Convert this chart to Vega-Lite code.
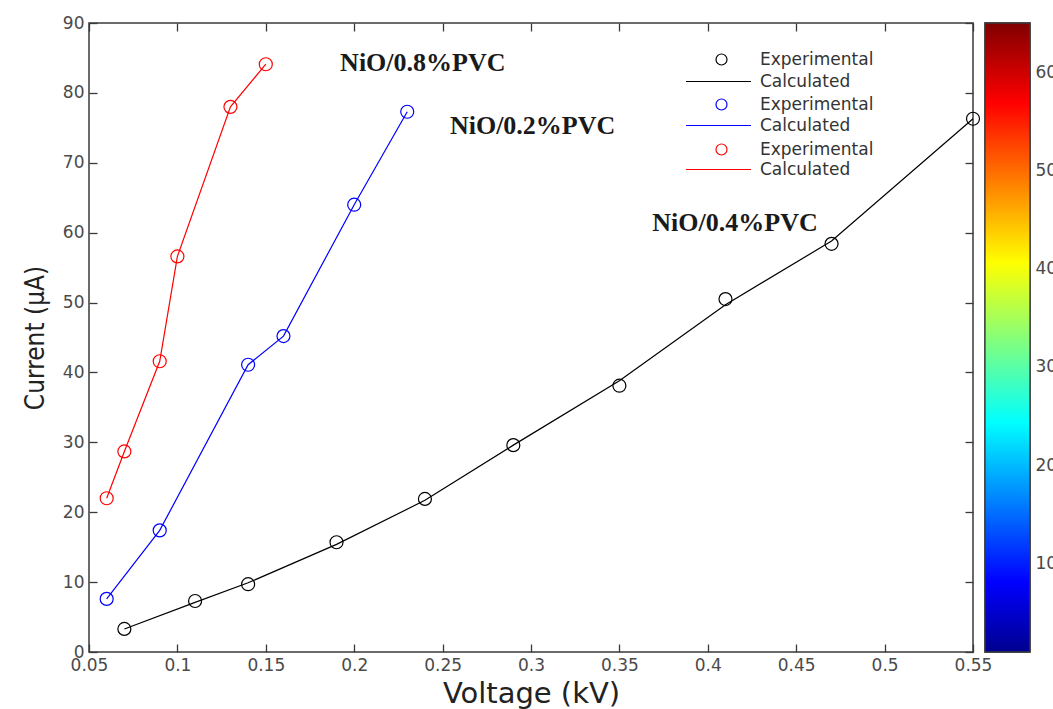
{
  "$schema": "https://vega.github.io/schema/vega-lite/v6.json",
  "background": "white",
  "padding": {"left": 21, "top": 13, "right": 0, "bottom": 0},
  "bounds": "flush",
  "spacing": 12,
  "datasets": {
    "exp": [
      {"s": "0.4", "v": 0.07, "i": 3.3, "entry": "e1"},
      {"s": "0.4", "v": 0.11, "i": 7.3, "entry": "e1"},
      {"s": "0.4", "v": 0.14, "i": 9.7, "entry": "e1"},
      {"s": "0.4", "v": 0.19, "i": 15.7, "entry": "e1"},
      {"s": "0.4", "v": 0.24, "i": 21.9, "entry": "e1"},
      {"s": "0.4", "v": 0.29, "i": 29.6, "entry": "e1"},
      {"s": "0.4", "v": 0.35, "i": 38.1, "entry": "e1"},
      {"s": "0.4", "v": 0.41, "i": 50.5, "entry": "e1"},
      {"s": "0.4", "v": 0.47, "i": 58.4, "entry": "e1"},
      {"s": "0.4", "v": 0.55, "i": 76.3, "entry": "e1"},
      {"s": "0.2", "v": 0.06, "i": 7.6, "entry": "e3"},
      {"s": "0.2", "v": 0.09, "i": 17.4, "entry": "e3"},
      {"s": "0.2", "v": 0.14, "i": 41.1, "entry": "e3"},
      {"s": "0.2", "v": 0.16, "i": 45.2, "entry": "e3"},
      {"s": "0.2", "v": 0.2, "i": 64.0, "entry": "e3"},
      {"s": "0.2", "v": 0.23, "i": 77.3, "entry": "e3"},
      {"s": "0.8", "v": 0.06, "i": 22.0, "entry": "e5"},
      {"s": "0.8", "v": 0.07, "i": 28.7, "entry": "e5"},
      {"s": "0.8", "v": 0.09, "i": 41.6, "entry": "e5"},
      {"s": "0.8", "v": 0.1, "i": 56.6, "entry": "e5"},
      {"s": "0.8", "v": 0.13, "i": 78.0, "entry": "e5"},
      {"s": "0.8", "v": 0.15, "i": 84.1, "entry": "e5"}
    ],
    "calc": [
      {"s": "0.4", "v": 0.07, "i": 3.3, "entry": "e2"},
      {"s": "0.4", "v": 0.11, "i": 7.1, "entry": "e2"},
      {"s": "0.4", "v": 0.14, "i": 9.9, "entry": "e2"},
      {"s": "0.4", "v": 0.19, "i": 15.4, "entry": "e2"},
      {"s": "0.4", "v": 0.24, "i": 21.7, "entry": "e2"},
      {"s": "0.4", "v": 0.29, "i": 29.6, "entry": "e2"},
      {"s": "0.4", "v": 0.35, "i": 38.8, "entry": "e2"},
      {"s": "0.4", "v": 0.41, "i": 49.7, "entry": "e2"},
      {"s": "0.4", "v": 0.47, "i": 58.8, "entry": "e2"},
      {"s": "0.4", "v": 0.55, "i": 76.3, "entry": "e2"},
      {"s": "0.2", "v": 0.06, "i": 7.6, "entry": "e4"},
      {"s": "0.2", "v": 0.09, "i": 17.4, "entry": "e4"},
      {"s": "0.2", "v": 0.14, "i": 41.1, "entry": "e4"},
      {"s": "0.2", "v": 0.16, "i": 45.2, "entry": "e4"},
      {"s": "0.2", "v": 0.2, "i": 64.0, "entry": "e4"},
      {"s": "0.2", "v": 0.23, "i": 77.3, "entry": "e4"},
      {"s": "0.8", "v": 0.06, "i": 22.0, "entry": "e6"},
      {"s": "0.8", "v": 0.07, "i": 28.7, "entry": "e6"},
      {"s": "0.8", "v": 0.09, "i": 41.6, "entry": "e6"},
      {"s": "0.8", "v": 0.1, "i": 56.6, "entry": "e6"},
      {"s": "0.8", "v": 0.13, "i": 78.0, "entry": "e6"},
      {"s": "0.8", "v": 0.15, "i": 84.1, "entry": "e6"}
    ],
    "labels": [
      {"label": "NiO/0.8%PVC", "v": 0.2388, "i": 84.3},
      {"label": "NiO/0.2%PVC", "v": 0.3009, "i": 75.2},
      {"label": "NiO/0.4%PVC", "v": 0.4154, "i": 61.4}
    ],
    "cbar": [{"x0": 0, "x1": 1, "lo": 1, "hi": 65}]
  },
  "hconcat": [
    {
      "width": 884,
      "height": 629,
      "layer": [
        {
          "data": {"name": "calc"},
          "mark": {"type": "line", "strokeWidth": 1.2},
          "encoding": {
            "x": {"field": "v", "type": "quantitative",
                  "scale": {"domain": [0.05, 0.55], "nice": false, "zero": false},
                  "axis": {"orient": "bottom", "values": [0.05, 0.1, 0.15, 0.2, 0.25, 0.3, 0.35, 0.4, 0.45, 0.5, 0.55], "format": "~g", "labelFlush": false, "labelOverlap": false, "title": "Voltage (kV)", "titleFontSize": 29, "titlePadding": 6}},
            "y": {"field": "i", "type": "quantitative",
                  "scale": {"domain": [0, 90], "nice": false, "zero": false},
                  "axis": {"orient": "left", "values": [0, 10, 20, 30, 40, 50, 60, 70, 80, 90], "labelFlush": false, "labelOverlap": false, "title": "Current (µA)", "titleFont": "DejaVu Sans Condensed", "titleFontSize": 26, "titlePadding": 14}},
            "color": {"field": "entry", "type": "nominal",
                      "scale": {"domain": ["e2", "e4", "e6"], "range": ["#000000", "#0000ff", "#ff0000"]},
                      "legend": {
                        "orient": "none", "legendX": 596, "legendY": 25, "title": null, "padding": 0,
                        "labelExpr": "'Calculated'",
                        "symbolType": "stroke", "symbolSize": 4225, "symbolStrokeWidth": 1.2, "labelOffset": 8, "rowPadding": 2,
                        "labelFont": "DejaVu Sans", "labelFontSize": 17, "labelColor": "#333333"
                      }}
          }
        },
        {
          "data": {"name": "exp"},
          "mark": {"type": "point", "filled": false, "size": 169, "strokeWidth": 1.2, "opacity": 1},
          "encoding": {
            "x": {"field": "v", "type": "quantitative", "axis": null},
            "y": {"field": "i", "type": "quantitative", "axis": null},
            "stroke": {"field": "entry", "type": "nominal",
                       "scale": {"domain": ["e1", "e3", "e5"], "range": ["#000000", "#0000ff", "#ff0000"]},
                       "legend": {
                         "orient": "none", "legendX": 624, "legendY": 28, "title": null, "padding": 0,
                         "labelExpr": "'Experimental'",
                         "symbolType": "circle", "symbolSize": 121, "symbolStrokeWidth": 1.2, "labelOffset": 30, "rowPadding": 27,
                         "labelFont": "DejaVu Sans", "labelFontSize": 17, "labelColor": "#333333"
                       }}
          }
        },
        {
          "data": {"name": "labels"},
          "mark": {"type": "text", "font": "Liberation Serif", "fontWeight": "bold", "fontSize": 26, "align": "center", "baseline": "middle", "color": "#1a1a1a"},
          "encoding": {
            "x": {"field": "v", "type": "quantitative", "axis": null},
            "y": {"field": "i", "type": "quantitative", "axis": null},
            "text": {"field": "label"}
          }
        },
        {
          "data": {"name": "calc"},
          "mark": {"type": "point", "opacity": 0},
          "encoding": {
            "x": {"field": "v", "type": "quantitative",
                  "axis": {"orient": "top", "values": [0.05, 0.1, 0.15, 0.2, 0.25, 0.3, 0.35, 0.4, 0.45, 0.5, 0.55], "labels": false, "title": null}},
            "y": {"field": "i", "type": "quantitative",
                  "axis": {"orient": "right", "values": [0, 10, 20, 30, 40, 50, 60, 70, 80, 90], "labels": false, "title": null}}
          }
        }
      ],
      "resolve": {"axis": {"x": "independent", "y": "independent"}}
    },
    {
      "width": 45,
      "height": 629,
      "data": {"name": "cbar"},
      "layer": [
        {
          "mark": {"type": "rect", "stroke": "#3a3a3a", "strokeWidth": 1.3,
                   "fill": {"gradient": "linear", "x1": 0, "y1": 1, "x2": 0, "y2": 0,
                            "stops": [
                              {"offset": 0, "color": "#00008f"},
                              {"offset": 0.111, "color": "#0000ff"},
                              {"offset": 0.365, "color": "#00ffff"},
                              {"offset": 0.619, "color": "#ffff00"},
                              {"offset": 0.873, "color": "#ff0000"},
                              {"offset": 1, "color": "#800000"}
                            ]}},
          "encoding": {
            "x": {"field": "x0", "type": "quantitative", "scale": {"domain": [0, 1], "nice": false}, "axis": null},
            "x2": {"field": "x1"},
            "y": {"field": "lo", "type": "quantitative",
                  "scale": {"domain": [1, 65], "nice": false, "zero": false},
                  "axis": {"orient": "right", "values": [10, 20, 30, 40, 50, 60], "title": null, "labelPadding": 13, "labelFlush": false}},
            "y2": {"field": "hi"}
          }
        },
        {
          "mark": {"type": "rect", "opacity": 0},
          "encoding": {
            "x": {"field": "x0", "type": "quantitative", "axis": null},
            "x2": {"field": "x1"},
            "y": {"field": "lo", "type": "quantitative",
                  "axis": {"orient": "left", "values": [10, 20, 30, 40, 50, 60], "title": null, "labels": false}},
            "y2": {"field": "hi"}
          }
        }
      ],
      "resolve": {"axis": {"y": "independent"}}
    }
  ],
  "config": {
    "view": {"stroke": "#3a3a3a", "strokeWidth": 1.5},
    "axis": {"grid": false, "domain": false, "tickColor": "#3a3a3a", "tickWidth": 1.3, "tickSize": -8,
             "labelFont": "DejaVu Sans", "labelFontSize": 17, "labelColor": "#4a4a4a", "labelPadding": 13,
             "titleFont": "DejaVu Sans", "titleColor": "#222222", "titleFontWeight": "normal"}
  }
}
